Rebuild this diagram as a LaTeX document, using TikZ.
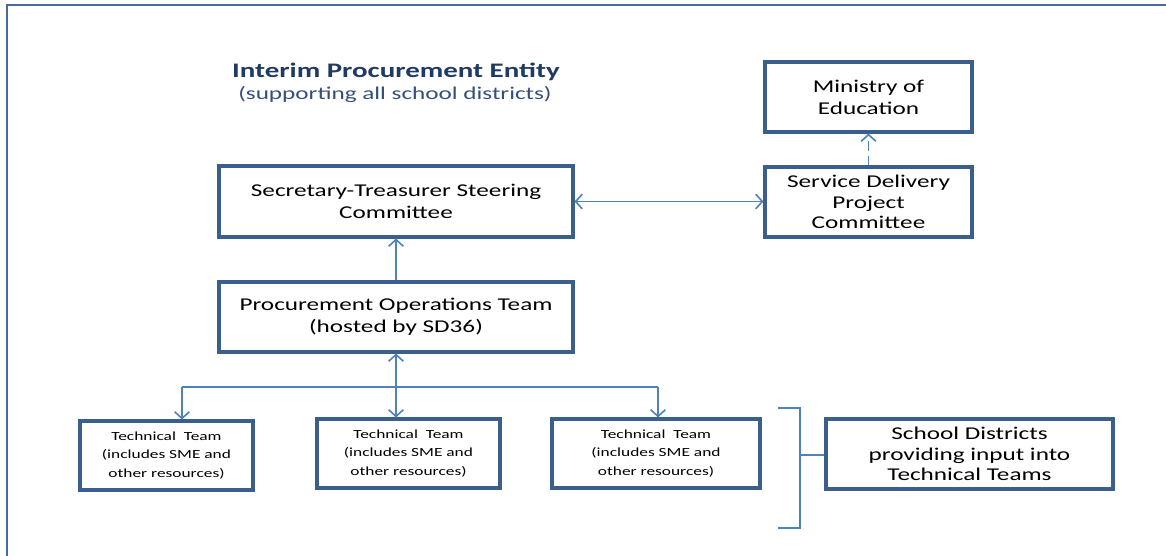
\documentclass[tikz,border=0pt]{standalone}
\usepackage{fontspec}
\setmainfont{Carlito}[FakeStretch=1.4]
\usetikzlibrary{arrows.meta}
\definecolor{boxline}{HTML}{3A5F8D}
\definecolor{arrowline}{HTML}{4F81BD}
\definecolor{frameline}{HTML}{4A6A98}
\definecolor{titleblue}{HTML}{1F3A63}
\definecolor{subblue}{HTML}{34507A}
\tikzset{
  orgbox/.style={draw=boxline, line width=2.3pt, fill=white, align=center,
    inner sep=2pt, font=\fontsize{13.5}{16.5}\selectfont},
  tightbox/.style={orgbox, font=\fontsize{13.5}{15.4}\selectfont},
  techbox/.style={orgbox, font=\fontsize{9.3}{13.6}\selectfont},
  link/.style={draw=arrowline, line width=1.4pt},
  tipped/.style={link, -{Straight Barb[length=5pt,width=11pt,line width=1.2pt]}},
  twotipped/.style={link, {Straight Barb[length=5pt,width=11pt,line width=1.2pt]}-{Straight Barb[length=5pt,width=11pt,line width=1.2pt]}},
  bracketline/.style={draw=arrowline, line width=1.1pt}
}
\begin{document}
\begin{tikzpicture}[x=0.75pt,y=-0.75pt]
\useasboundingbox (0,0) rectangle (1166,556);
% outer frame
\draw[frameline, line width=1.6pt] (7,5) rectangle (1180,570);

% heading
\node[font=\fontsize{15.5}{18}\selectfont\bfseries, text=titleblue] (title) at (396,72) {Interim Procurement Entity};
\node[font=\fontsize{13.5}{16}\selectfont, text=subblue] (subtitle) at (395,94) {(supporting all school districts)};

% upper level
\node[orgbox, minimum width=354*0.75pt, minimum height=71*0.75pt] (sec) at (396,201.5) {Secretary-Treasurer Steering\\Committee};
\node[orgbox, minimum width=207*0.75pt, minimum height=70*0.75pt] (moe) at (868.5,97) {Ministry of\\Education};
\node[tightbox, minimum width=207*0.75pt, minimum height=70*0.75pt] (sdp) at (868.5,202) {Service Delivery\\Project\\Committee};
\node[orgbox, minimum width=354*0.75pt, minimum height=70*0.75pt] (ops) at (396,317) {Procurement Operations Team\\(hosted by SD36)};

% technical teams
\node[techbox, minimum width=173*0.75pt, minimum height=69*0.75pt] (t1) at (166.5,455.5) {Technical\ \ Team\\(includes SME and\\other resources)};
\node[techbox, minimum width=183*0.75pt, minimum height=69*0.75pt] (t2) at (408.5,453.5) {Technical\ \ Team\\(includes SME and\\other resources)};
\node[techbox, minimum width=208*0.75pt, minimum height=69*0.75pt] (t3) at (656,453.5) {Technical\ \ Team\\(includes SME and\\other resources)};
\node[tightbox, minimum width=287*0.75pt, minimum height=70*0.75pt] (sch) at (969.5,454) {School Districts\\providing input into\\Technical Teams};

% connectors
\draw[twotipped] (sec.east) -- (sdp.west |- sec.east);
\draw[tipped, dash pattern=on 7pt off 4pt] (sdp.north) -- (moe.south);
\draw[tipped] (ops.north) -- (sec.south);
\coordinate (bl) at (182,387);
\coordinate (br) at (658,387);
\draw[twotipped] (ops.south) -- (ops.south |- t2.north);
\draw[link] (bl) -- (br);
\draw[tipped] (bl) -- (bl |- t1.north);
\draw[tipped] (br) -- (br |- t3.north);

% bracket grouping the technical teams
\coordinate (ba) at (778,408);
\coordinate (bb) at (800,408);
\coordinate (bc) at (800,528);
\coordinate (bd) at (778,528);
\coordinate (bm) at (800,455);
\draw[bracketline] (ba) -- (bb) -- (bc) -- (bd);
\draw[bracketline] (bm) -- (sch.west |- bm);
\end{tikzpicture}
\end{document}
